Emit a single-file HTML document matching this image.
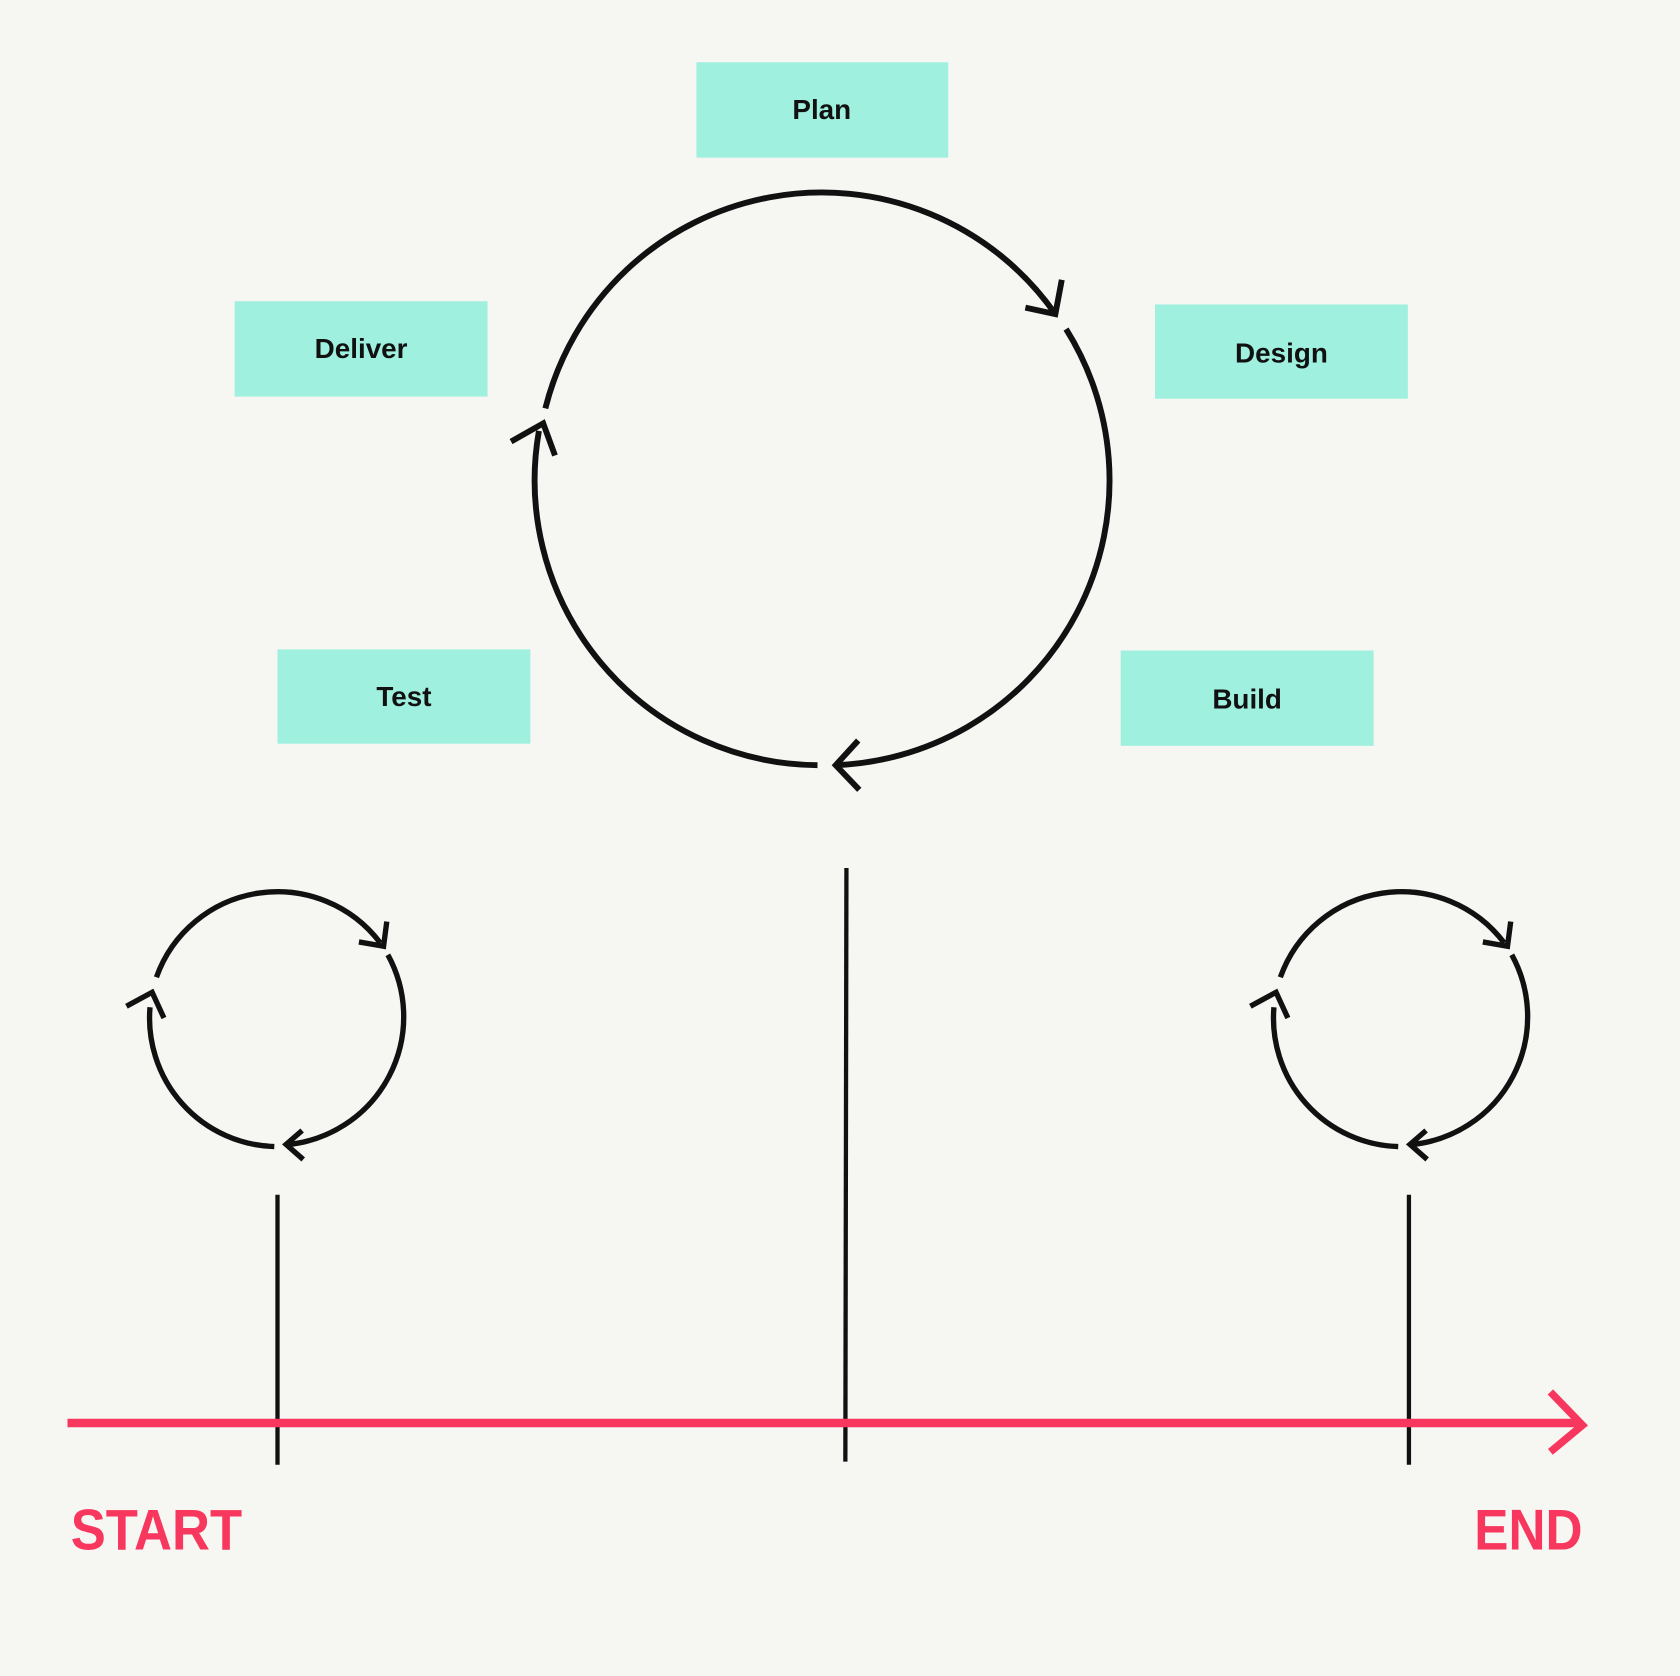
<!DOCTYPE html>
<html><head><meta charset="utf-8"><style>
html,body{margin:0;padding:0;background:#f6f6f3;}
svg{display:block;}
</style></head><body>
<svg width="1680" height="1676" viewBox="0 0 1568 1564" xmlns="http://www.w3.org/2000/svg">
<rect width="1568" height="1564" fill="#f6f6f3"/>
<g fill="#9ff0de">
<rect x="650" y="58" width="235" height="89"/>
<rect x="219" y="281" width="236" height="89"/>
<rect x="1078" y="284" width="236" height="88"/>
<rect x="259" y="606" width="236" height="88"/>
<rect x="1046" y="607" width="236" height="89"/>
</g>
<g font-family="Liberation Sans, sans-serif" font-weight="bold" font-size="26" fill="#111" text-anchor="middle">
<text x="767" y="111">Plan</text>
<text x="337" y="334">Deliver</text>
<text x="1196" y="338">Design</text>
<text x="377" y="659">Test</text>
<text x="1164" y="661">Build</text>
</g>
<g fill="none" stroke="#111" stroke-width="5.5">
<path d="M763,714 A266,266 0 0 1 503,402"/>
<polyline points="477,412 507,395 518,425"/>
<path d="M509,381 A266,266 0 0 1 985,293"/>
<polyline points="957,287 985,293 991,261"/>
<path d="M995,307 A266,266 0 0 1 780,714"/>
<polyline points="801,691 780,714 802,737"/>
</g>
<g id="sc" fill="none" stroke="#111" stroke-width="5">
<path d="M146,912 A120,120 0 0 1 355,880"/>
<polyline points="335,879 358,883 361,860"/>
<path d="M362,891 A120,120 0 0 1 270,1068"/>
<polyline points="282,1055 267,1068 283,1082"/>
<path d="M256,1070 A120,120 0 0 1 140,940"/>
<polyline points="118,939 142,926 153,950"/>
</g>
<use href="#sc" transform="translate(1049,0)"/>
<g stroke="#111" stroke-width="4">
<line x1="259" y1="1115" x2="259" y2="1367"/>
<line x1="790" y1="810" x2="789" y2="1364"/>
<line x1="1315" y1="1115" x2="1315" y2="1367"/>
</g>
<line x1="63" y1="1328" x2="1474" y2="1328" stroke="#f7375d" stroke-width="8"/>
<polyline points="1447,1299 1477,1330 1447,1355" fill="none" stroke="#f7375d" stroke-width="7"/>
<g font-family="Liberation Sans, sans-serif" font-weight="bold" font-size="54" fill="#f7375d">
<text x="66" y="1446" textLength="160" lengthAdjust="spacingAndGlyphs">START</text>
<text x="1376" y="1446" textLength="101" lengthAdjust="spacingAndGlyphs">END</text>
</g>
</svg>
</body></html>
